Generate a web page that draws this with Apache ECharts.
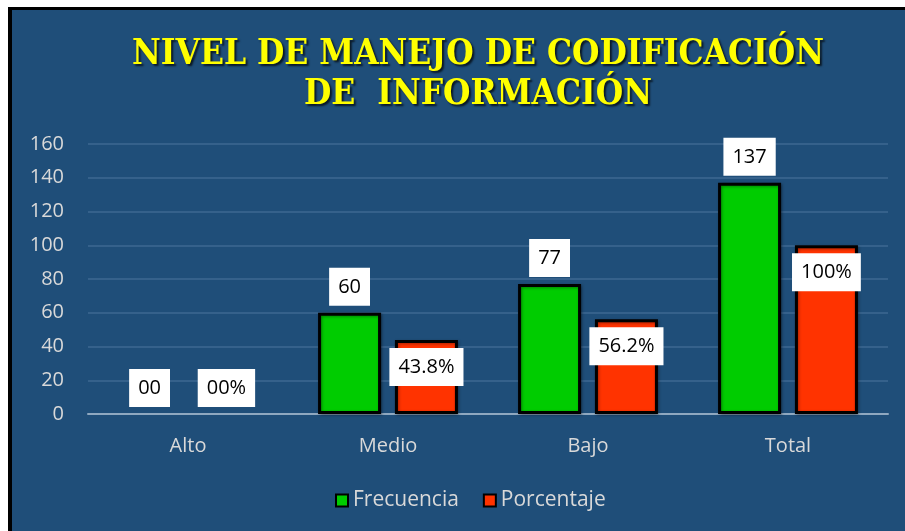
<!DOCTYPE html>
<html>
<head>
<meta charset="utf-8">
<script src="https://cdn.jsdelivr.net/npm/echarts@6/dist/echarts.min.js"></script>
<style>
  html, body { margin: 0; padding: 0; background: #fff; }
  .panel {
    position: absolute;
    left: 8px; top: 7px; right: 0; bottom: 0;
    background: #1f4e79;
    border-left: 4px solid #000;
    border-top: 3px solid #000;
  }
  #main { position: absolute; left: 0; top: 0; width: 905px; height: 531px; }
</style>
</head>
<body>
<div class="panel"></div>
<div id="main"></div>
<script>
// data
const categories = ['Alto', 'Medio', 'Bajo', 'Total'];
const frecuencia = [0, 60, 77, 137];
const porcentaje = [0, 43.8, 56.2, 100];
const frecuenciaLabels = ['00', '60', '77', '137'];
const porcentajeLabels = ['00%', '43.8%', '56.2%', '100%'];
const yTicks = { min: 0, max: 160, interval: 20 };

const chart = echarts.init(document.getElementById('main'));

const boxLabel = {
  show: true,
  color: '#000',
  backgroundColor: '#fff',
  fontFamily: 'Open Sans, Noto Sans, sans-serif',
  fontSize: 20,
  padding: [8, 9, 7, 9],
  lineHeight: 23
};

// zero bars show only their label, no outline
function toItems(values) {
  return values.map(v => v === 0
    ? { value: v, itemStyle: { borderWidth: 0, shadowBlur: 0, color: 'transparent' },
        label: { position: 'top', distance: 7 } }
    : v);
}

const barStyle = color => ({
  color: color,
  borderColor: '#000',
  borderWidth: 3,
  shadowColor: 'rgba(0,0,0,0.35)',
  shadowBlur: 3,
  shadowOffsetX: 1,
  shadowOffsetY: 1
});

const option = {
  backgroundColor: 'transparent',
  title: {
    text: 'NIVEL DE MANEJO DE CODIFICACIÓN\nDE  INFORMACIÓN',
    left: 473,
    top: 30,
    textAlign: 'center',
    textStyle: {
      color: '#ffff00',
      fontFamily: 'DejaVu Serif Condensed, Liberation Serif, serif',
      fontWeight: 'bold',
      fontSize: 35,
      lineHeight: 40,
      textShadowColor: 'rgba(0,0,0,0.7)',
      textShadowOffsetX: 2,
      textShadowOffsetY: 2,
      textShadowBlur: 2
    }
  },
  legend: {
    bottom: 15,
    left: 330,
    itemWidth: 12,
    itemHeight: 12,
    itemGap: 24,
    icon: 'rect',
    itemStyle: { borderColor: '#000', borderWidth: 2 },
    textStyle: { color: '#d9d9d9', fontSize: 21, fontFamily: 'Open Sans, sans-serif' },
    data: ['Frecuencia', 'Porcentaje']
  },
  grid: { left: 88, right: 17, top: 144, bottom: 117 },
  xAxis: {
    type: 'category',
    data: categories,
    axisTick: { show: false },
    axisLine: { lineStyle: { color: '#8fa8c0', width: 2 } },
    axisLabel: { color: '#d9d9d9', fontSize: 20, margin: 22, fontFamily: 'Open Sans, sans-serif' }
  },
  yAxis: {
    type: 'value',
    min: yTicks.min,
    max: yTicks.max,
    interval: yTicks.interval,
    axisLine: { show: false },
    axisTick: { show: false },
    axisLabel: { color: '#d9d9d9', fontSize: 20, margin: 24, fontFamily: 'Open Sans, sans-serif' },
    splitLine: { lineStyle: { color: '#3e6892', width: 1.5 } }
  },
  series: [
    {
      name: 'Frecuencia',
      type: 'bar',
      barWidth: 63,
      barGap: '22%',
      itemStyle: barStyle('#00cc00'),
      label: Object.assign({}, boxLabel, {
        position: 'top',
        distance: 7,
        formatter: p => frecuenciaLabels[p.dataIndex]
      }),
      data: toItems(frecuencia)
    },
    {
      name: 'Porcentaje',
      type: 'bar',
      barWidth: 63,
      itemStyle: barStyle('#ff3300'),
      label: Object.assign({}, boxLabel, {
        position: 'insideTop',
        distance: 8,
        formatter: p => porcentajeLabels[p.dataIndex]
      }),
      data: toItems(porcentaje)
    }
  ]
};

chart.setOption(option);
</script>
</body>
</html>
